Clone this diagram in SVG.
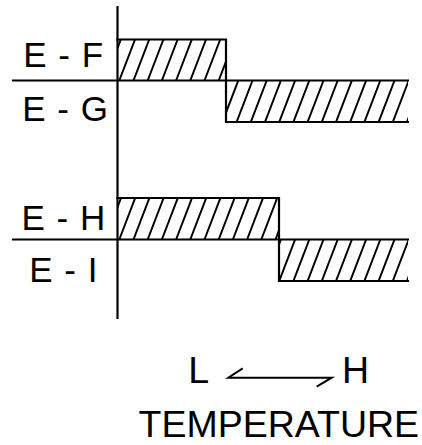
<svg xmlns="http://www.w3.org/2000/svg" width="422" height="445" viewBox="0 0 422 445">
<style>
.ln{stroke:#000;stroke-width:2.2;fill:none;stroke-linecap:square}
.hl{stroke:#000;stroke-width:2;fill:none}
.lbl{font-family:"Liberation Sans",Arial,sans-serif;font-size:35px;letter-spacing:1px;fill:#000}
.big{font-family:"Liberation Sans",Arial,sans-serif;font-size:37.5px;fill:#000}
</style>
<defs>
<clipPath id="c1"><rect x="117.5" y="39.5" width="108.5" height="41"/></clipPath>
<clipPath id="c2"><rect x="226" y="80.5" width="182" height="41.5"/></clipPath>
<clipPath id="c3"><rect x="117.5" y="198" width="161.5" height="41.5"/></clipPath>
<clipPath id="c4"><rect x="279" y="239.5" width="129" height="41.5"/></clipPath>
</defs>
<g id="block1">
<path class="hl" clip-path="url(#c1)" d="M105.1,80.5l15.7,-41M119.3,80.5l15.7,-41M133.5,80.5l15.7,-41M147.7,80.5l15.7,-41M161.9,80.5l15.7,-41M176.1,80.5l15.7,-41M190.3,80.5l15.7,-41M204.5,80.5l15.7,-41M218.7,80.5l15.7,-41"/>
<path class="hl" clip-path="url(#c2)" d="M238.3,80.5l-15.9,41.5M252.5,80.5l-15.9,41.5M266.7,80.5l-15.9,41.5M280.9,80.5l-15.9,41.5M295.1,80.5l-15.9,41.5M309.3,80.5l-15.9,41.5M323.5,80.5l-15.9,41.5M337.7,80.5l-15.9,41.5M351.9,80.5l-15.9,41.5M366.1,80.5l-15.9,41.5M380.3,80.5l-15.9,41.5M394.5,80.5l-15.9,41.5M408.7,80.5l-15.9,41.5M422.9,80.5l-15.9,41.5"/>
<path class="ln" d="M117.5,39.5 H226 V122 H408"/>
<line class="ln" x1="13" y1="80.5" x2="408" y2="80.5"/>
</g>
<g id="block2">
<path class="hl" clip-path="url(#c3)" d="M105.1,239.5l15.9,-41.5M119.3,239.5l15.9,-41.5M133.5,239.5l15.9,-41.5M147.7,239.5l15.9,-41.5M161.9,239.5l15.9,-41.5M176.1,239.5l15.9,-41.5M190.3,239.5l15.9,-41.5M204.5,239.5l15.9,-41.5M218.7,239.5l15.9,-41.5M232.9,239.5l15.9,-41.5M247.1,239.5l15.9,-41.5M261.3,239.5l15.9,-41.5M275.5,239.5l15.9,-41.5"/>
<path class="hl" clip-path="url(#c4)" d="M280.9,239.5l-15.9,41.5M295.1,239.5l-15.9,41.5M309.3,239.5l-15.9,41.5M323.5,239.5l-15.9,41.5M337.7,239.5l-15.9,41.5M351.9,239.5l-15.9,41.5M366.1,239.5l-15.9,41.5M380.3,239.5l-15.9,41.5M394.5,239.5l-15.9,41.5M408.7,239.5l-15.9,41.5M422.9,239.5l-15.9,41.5"/>
<path class="ln" d="M117.5,198 H279 V281 H408"/>
<line class="ln" x1="13" y1="239.5" x2="408" y2="239.5"/>
</g>
<g id="axis">
<line class="ln" x1="117.5" y1="7" x2="117.5" y2="318"/>
</g>
<g id="labels">
<text class="lbl" x="23.2" y="67.3">E - F</text>
<text class="lbl" x="22.2" y="121">E - G</text>
<text class="lbl" x="21.5" y="229.5">E - H</text>
<text class="lbl" x="29.2" y="282">E - I</text>
</g>
<g id="temperature">
<text class="big" x="188.2" y="383.3">L</text>
<polyline points="242.7,368.3 228.3,377.7 331.7,377.7 316.7,386.7" fill="none" stroke="#000" stroke-width="2"/>
<text class="big" x="342" y="383.3">H</text>
<text class="big" x="138.5" y="437.3">TEMPERATURE</text>
</g>
</svg>
